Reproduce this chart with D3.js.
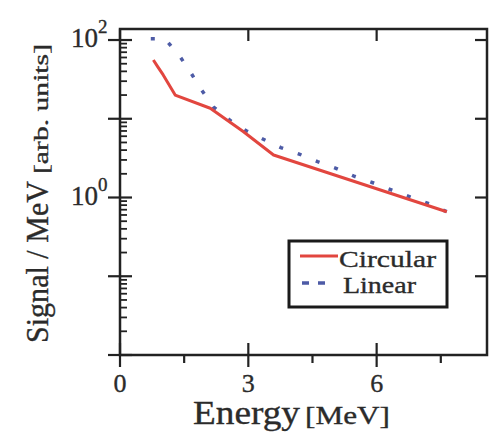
<!DOCTYPE html>
<html lang="en">
<head>
<meta charset="utf-8">
<title>Signal / MeV vs Energy</title>
<script src="https://d3js.org/d3.v7.min.js"></script>
<style>
  body { margin: 0; background: #fff; }
  text { font-family: "Liberation Serif", "Times New Roman", serif; fill: #2b2b2b; stroke: #2b2b2b; stroke-width: 0.35px; }
</style>
</head>
<body>
<div id="graph"></div>
<script>

// values (energy in MeV, signal in arb. units)
var circularEnergy = [0.78, 0.88, 1.01, 1.29, 2.11, 2.88, 3.59, 7.64];
var circularSignal = [55.7, 46, 36, 20, 13.6, 6.9, 3.47, 0.66];

var linearEnergy = [0.72, 1.05, 1.39, 1.66, 1.91, 2.18, 2.61, 2.95, 3.35, 3.76, 4.19, 4.62, 5.05, 5.47, 5.91, 6.36, 6.78, 7.23, 7.64];
var linearSignal = [104, 104, 63, 38, 23, 14.2, 9.2, 7.05, 5.5, 4.3, 3.56, 2.85, 2.35, 1.87, 1.54, 1.24, 1.02, 0.83, 0.66];

var xMajorTicks = [0, 3, 6];
var xMinorTicks = [1.5, 4.5, 7.5];
var yMajorTicks = [0.01, 0.1, 1, 10, 100];
var yLabelTicks = [100, 1];
var legendNames = ["Circular", "Linear"];

var width = 493, height = 432;
var plotLeft = 120, plotRight = 487, plotTop = 29, plotBottom = 355;
var axisColor = "#222";

var svg = d3.select("#graph")
  .append("svg")
  .attr("width", width)
  .attr("height", height);

var x = d3.scaleLinear()
  .domain([0, 8.58])
  .range([plotLeft, plotRight]);

var y = d3.scaleLog()
  .domain([0.01, 138])
  .range([plotBottom, plotTop]);

// minor log ticks 2..9 in each decade
var yMinorTicks = [];
yMajorTicks.forEach(function(d) {
  for (var k = 2; k <= 9; k++) {
    var v = d * k;
    if (v < y.domain()[1]) yMinorTicks.push(v);
  }
});

var circular = circularEnergy.map(function(e, i) { return [e, circularSignal[i]]; });
var linear = linearEnergy.map(function(e, i) { return [e, linearSignal[i]]; });

var line = d3.line()
  .x(function(d) { return x(d[0]); })
  .y(function(d) { return y(d[1]); });

// curves
svg.append("path")
  .datum(linear)
  .attr("d", line)
  .attr("fill", "none")
  .attr("stroke", "#4d5ba6")
  .attr("stroke-width", 3.5)
  .attr("stroke-dasharray", "4,15.5");

svg.append("path")
  .datum(circular)
  .attr("d", line)
  .attr("fill", "none")
  .attr("stroke", "#e2463f")
  .attr("stroke-width", 3)
  .attr("stroke-linejoin", "round");

// frame
svg.append("rect")
  .attr("x", plotLeft)
  .attr("y", plotTop)
  .attr("width", plotRight - plotLeft)
  .attr("height", plotBottom - plotTop)
  .attr("fill", "none")
  .attr("stroke", axisColor)
  .attr("stroke-width", 2.5);

var ticks = svg.append("g")
  .attr("stroke", axisColor)
  .attr("stroke-width", 2.2);

// x major ticks cross the bottom axis, inward on top
ticks.selectAll(".xmaj")
  .data(xMajorTicks)
  .enter().append("line")
  .attr("x1", function(d) { return x(d); })
  .attr("x2", function(d) { return x(d); })
  .attr("y1", plotBottom - 12)
  .attr("y2", plotBottom + 12);

ticks.selectAll(".xmajtop")
  .data(xMajorTicks)
  .enter().append("line")
  .attr("x1", function(d) { return x(d); })
  .attr("x2", function(d) { return x(d); })
  .attr("y1", plotTop)
  .attr("y2", plotTop + 12);

ticks.selectAll(".xmin")
  .data(xMinorTicks)
  .enter().append("line")
  .attr("x1", function(d) { return x(d); })
  .attr("x2", function(d) { return x(d); })
  .attr("y1", plotBottom)
  .attr("y2", plotBottom + 8);

// y ticks
ticks.selectAll(".ymaj")
  .data(yMajorTicks)
  .enter().append("line")
  .attr("x1", plotLeft - 12)
  .attr("x2", plotLeft + 12)
  .attr("y1", function(d) { return y(d); })
  .attr("y2", function(d) { return y(d); });

ticks.selectAll(".ymajr")
  .data(yMajorTicks.slice(1))
  .enter().append("line")
  .attr("x1", plotRight - 12)
  .attr("x2", plotRight)
  .attr("y1", function(d) { return y(d); })
  .attr("y2", function(d) { return y(d); });

ticks.selectAll(".ymin")
  .data(yMinorTicks)
  .enter().append("line")
  .attr("stroke-width", 1.8)
  .attr("x1", plotLeft)
  .attr("x2", plotLeft + 7)
  .attr("y1", function(d) { return y(d); })
  .attr("y2", function(d) { return y(d); });

// tick labels
svg.selectAll(".xlab")
  .data(xMajorTicks)
  .enter().append("text")
  .attr("x", function(d) { return x(d); })
  .attr("y", 392)
  .attr("text-anchor", "middle")
  .attr("font-size", 26)
  .text(function(d) { return d; });

var ylab = svg.selectAll(".ylab")
  .data(yLabelTicks)
  .enter().append("g");

ylab.append("text")
  .attr("x", 98)
  .attr("y", function(d) { return y(d) + 7; })
  .attr("text-anchor", "end")
  .attr("font-size", 27)
  .text("10");

ylab.append("text")
  .attr("x", 98)
  .attr("y", function(d) { return y(d) - 7; })
  .attr("font-size", 19)
  .text(function(d) { return Math.round(Math.log10(d)); });

// axis titles
svg.append("text")
  .attr("transform", "translate(48,343) rotate(-90)")
  .attr("font-size", 31)
  .attr("textLength", 162)
  .attr("lengthAdjust", "spacingAndGlyphs")
  .text("Signal / MeV");

svg.append("text")
  .attr("transform", "translate(48,174) rotate(-90)")
  .attr("font-size", 22)
  .attr("textLength", 130)
  .attr("lengthAdjust", "spacingAndGlyphs")
  .text("[arb. units]");

svg.append("text")
  .attr("x", 193)
  .attr("y", 424)
  .attr("font-size", 34)
  .attr("textLength", 107)
  .attr("lengthAdjust", "spacingAndGlyphs")
  .text("Energy");

svg.append("text")
  .attr("x", 305)
  .attr("y", 424)
  .attr("font-size", 26)
  .attr("textLength", 85)
  .attr("lengthAdjust", "spacingAndGlyphs")
  .text("[MeV]");

// legend
var legend = svg.append("g");

legend.append("rect")
  .attr("x", 289)
  .attr("y", 241)
  .attr("width", 158)
  .attr("height", 66)
  .attr("fill", "#fff")
  .attr("stroke", "#1a1a1a")
  .attr("stroke-width", 3);

legend.append("line")
  .attr("x1", 300).attr("x2", 338)
  .attr("y1", 256).attr("y2", 256)
  .attr("stroke", "#e2463f")
  .attr("stroke-width", 3);

legend.append("line")
  .attr("x1", 302).attr("x2", 326)
  .attr("y1", 283).attr("y2", 283)
  .attr("stroke", "#4d5ba6")
  .attr("stroke-width", 3.5)
  .attr("stroke-dasharray", "7,9");

legend.append("text")
  .attr("x", 339)
  .attr("y", 267)
  .attr("font-size", 24)
  .attr("textLength", 97)
  .attr("lengthAdjust", "spacingAndGlyphs")
  .text(legendNames[0]);

legend.append("text")
  .attr("x", 343)
  .attr("y", 293)
  .attr("font-size", 24)
  .attr("textLength", 73)
  .attr("lengthAdjust", "spacingAndGlyphs")
  .text(legendNames[1]);

</script>
</body>
</html>
